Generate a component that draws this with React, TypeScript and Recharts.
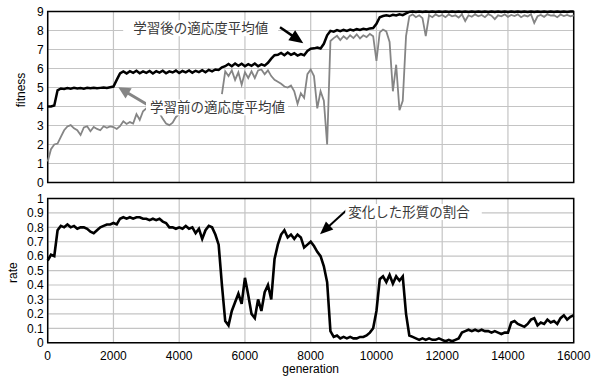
import React from "react"
import {
  LineChart,
  Line,
  XAxis,
  YAxis,
  CartesianGrid,
  ReferenceArea,
  ReferenceLine,
  ReferenceDot,
} from "recharts"

// one sample every 100 generations, 0 .. 16000
const GEN_STEP = 100

const fitnessAfter = [
  4.0, 4.0, 4.05, 4.85, 4.95, 4.92, 4.97, 4.94, 4.98, 4.95,
  4.97, 4.94, 4.98, 4.96, 4.99, 4.96, 4.98, 5.0, 4.97, 5.01,
  5.05, 5.4, 5.74, 5.84, 5.74, 5.86, 5.77, 5.88, 5.75, 5.85,
  5.77, 5.87, 5.74, 5.86, 5.78, 5.88, 5.75, 5.85, 5.79, 5.89,
  5.76, 5.87, 5.8, 5.9, 5.78, 5.88, 5.81, 5.91, 5.8, 5.93,
  5.85, 5.95, 5.92, 6.06, 6.12, 6.24, 6.12, 6.26, 6.14, 6.25,
  6.12, 6.23, 6.14, 6.26, 6.12, 6.22, 6.15, 6.3, 6.52, 6.7,
  6.72, 6.82, 6.7, 6.84, 6.72, 6.8, 6.68, 6.76, 6.7, 6.92,
  7.04, 7.06, 7.1, 7.05, 7.3, 7.75, 7.98, 7.94, 8.02, 7.96,
  8.03, 7.98, 8.05, 8.0, 8.07, 8.03, 8.09, 8.05, 8.11, 8.13,
  8.35, 8.7, 8.76, 8.8, 8.76, 8.83, 8.79, 8.85, 8.81, 8.9,
  8.98, 9.0, 8.97, 9.0, 8.98, 9.0, 8.97, 9.0, 8.98, 9.0,
  8.97, 9.0, 8.98, 9.0, 8.97, 9.0, 8.98, 9.0, 8.97, 9.0,
  8.98, 9.0, 8.97, 9.0, 8.98, 9.0, 8.97, 9.0, 8.98, 9.0,
  8.97, 9.0, 8.98, 9.0, 8.97, 9.0, 8.98, 9.0, 8.97, 9.0,
  8.98, 9.0, 8.97, 9.0, 8.98, 9.0, 8.97, 9.0, 8.98, 9.0,
  9.0,
]

const fitnessBefore: (number | null)[] = [
  1.1, 1.75, 2.0, 2.05, 2.4, 2.75, 2.95, 3.02, 2.85, 2.75,
  2.5, 2.9, 2.96, 2.7, 2.92, 2.82, 2.75, 2.96, 2.88, 2.95,
  2.92, 2.82, 2.96, 3.22, 3.08, 3.18, 3.1, 3.6, 3.3, 3.75,
  3.9, 3.8, 3.7, 3.75, 3.65, 3.35, 3.1, 3.02, 3.15, 3.45,
  3.6, null, null, null, null, null, null, null, null, null,
  null, null, null, 4.65, 5.85, 5.6, 5.9, 5.4, 5.8, 5.15,
  5.8, 5.5, 5.85, 5.5, 5.9, 5.95, 5.7, 5.9, 5.6, 5.4,
  5.3, 5.2, 5.05, 5.0, 5.1, 4.8, 4.15, 4.7, 4.45, 5.7,
  5.95, 5.6, 3.9, 4.8, 4.3, 2.0, 7.45, 7.6, 7.72, 7.5,
  7.7, 7.55, 7.75, 7.6, 7.8, 7.58, 7.75, 7.65, 7.82, 7.7,
  6.4, 7.9, 8.05, 7.95, 7.4, 4.8, 6.2, 3.8, 4.3, 7.7,
  8.75, 8.85, 8.7, 8.8, 8.65, 7.7, 8.8, 8.7, 8.85, 8.75,
  8.82, 8.7, 8.85, 8.75, 8.8, 8.68, 8.85, 8.5, 8.8, 8.72,
  8.85, 8.75, 8.82, 8.7, 8.86, 8.78, 8.6, 8.8, 8.75, 8.85,
  8.72, 8.82, 8.76, 8.85, 8.7, 8.8, 8.74, 8.86, 8.4, 8.75,
  8.82, 8.72, 8.85, 8.78, 8.8, 8.7, 8.84, 8.76, 8.82, 8.75,
  8.8,
]

const changedRate = [
  0.57, 0.61, 0.6, 0.78, 0.81, 0.8, 0.82, 0.8, 0.81, 0.79,
  0.8, 0.8, 0.79, 0.77, 0.76, 0.78, 0.8, 0.81, 0.82, 0.82,
  0.83, 0.82, 0.86, 0.87, 0.86, 0.87, 0.86, 0.87, 0.87, 0.86,
  0.86, 0.85, 0.86, 0.85, 0.86, 0.84, 0.83, 0.8, 0.8, 0.79,
  0.8, 0.79, 0.81, 0.79, 0.8, 0.76, 0.79, 0.72, 0.78, 0.81,
  0.8, 0.75, 0.68, 0.4, 0.15, 0.12, 0.22, 0.28, 0.34, 0.27,
  0.45, 0.33, 0.2, 0.17, 0.3, 0.22, 0.35, 0.4, 0.3, 0.58,
  0.68, 0.75, 0.78, 0.73, 0.75, 0.72, 0.75, 0.73, 0.66, 0.68,
  0.7, 0.67, 0.63, 0.6, 0.53, 0.42, 0.08, 0.04, 0.05, 0.03,
  0.04, 0.03, 0.04, 0.03, 0.03, 0.04, 0.04, 0.05, 0.07, 0.1,
  0.22, 0.44, 0.46, 0.42, 0.47, 0.41, 0.46, 0.43, 0.46, 0.2,
  0.05, 0.04, 0.03, 0.02, 0.03, 0.02, 0.03, 0.02, 0.02, 0.03,
  0.02, 0.01, 0.02, 0.01, 0.02, 0.03, 0.07, 0.08, 0.09, 0.08,
  0.09, 0.08, 0.09, 0.08, 0.08, 0.07, 0.08, 0.07, 0.06, 0.07,
  0.07, 0.14, 0.15, 0.13, 0.12, 0.11, 0.13, 0.16, 0.17, 0.12,
  0.14, 0.13, 0.16, 0.14, 0.15, 0.13, 0.17, 0.19, 0.16, 0.18,
  0.19,
]

const genTicks = [0, 2000, 4000, 6000, 8000, 10000, 12000, 14000, 16000]
const fitnessTicks = [0, 1, 2, 3, 4, 5, 6, 7, 8, 9]
const rateTicks = [0, 0.1, 0.2, 0.3, 0.4, 0.5, 0.6, 0.7, 0.8, 0.9, 1]

const fitnessData = fitnessAfter.map((v, i) => ({
  gen: i * GEN_STEP,
  after: v,
  before: fitnessBefore[i],
}))
const rateData = changedRate.map((v, i) => ({ gen: i * GEN_STEP, rate: v }))

const FONT = "'Liberation Sans', Arial, Helvetica, sans-serif"
const JP_FONT = "'Noto Sans CJK JP', sans-serif"
const GRID = "#c4c4c4"
const GRAY = "#858585"
const tickStyle = { fontSize: 12, fill: "#000", fontFamily: FONT }

const arrowShape =
  (color: string, width: number, headLen: number, headHalf: number) =>
  (p: any) => {
    const { x1, y1, x2, y2 } = p
    const dx = x2 - x1
    const dy = y2 - y1
    const len = Math.hypot(dx, dy) || 1
    const ux = dx / len
    const uy = dy / len
    const bx = x2 - ux * headLen
    const by = y2 - uy * headLen
    const nx = -uy * headHalf
    const ny = ux * headHalf
    return (
      <g>
        <line x1={x1} y1={y1} x2={bx + ux} y2={by + uy} stroke={color} strokeWidth={width} />
        <polygon
          points={`${x2},${y2} ${bx + nx},${by + ny} ${bx - nx},${by - ny}`}
          fill={color}
        />
      </g>
    )
  }

const noteShape =
  (text: string, padL: number, padR: number) =>
  (p: any) => {
    const { cx, cy } = p
    const w = text.length * 13.5
    return (
      <g>
        <rect x={cx - w / 2 - padL} y={cy - 8} width={w + padL + padR} height={16} fill="#fff" />
        <text
          x={cx}
          y={cy}
          dy="0.36em"
          textAnchor="middle"
          fontSize={13.5}
          fontFamily={JP_FONT}
          fill="#3a3a3a"
        >
          {text}
        </text>
      </g>
    )
  }

const axisTitle =
  (text: string, baseX: number, shiftY: number) =>
  (p: any) => {
    const vb = p.viewBox || { y: 0, height: 0 }
    const cy = vb.y + vb.height / 2 + shiftY
    return (
      <text
        x={baseX}
        y={cy}
        transform={`rotate(-90 ${baseX} ${cy})`}
        textAnchor="middle"
        fontSize={12}
        fontFamily={FONT}
        fill="#000"
      >
        {text}
      </text>
    )
  }

export default function App() {
  return (
    <div
      style={{
        position: "absolute",
        left: 0,
        top: 0,
        width: 594,
        height: 376,
        background: "#fff",
      }}
    >
      <div style={{ position: "absolute", left: 0, top: 0 }}>
        <LineChart
          width={594}
          height={192}
          data={fitnessData}
          margin={{ top: 11.5, right: 20.3, bottom: 9.5, left: 0 }}
        >
          <CartesianGrid stroke={GRID} strokeWidth={1.2} />
          <XAxis
            dataKey="gen"
            type="number"
            domain={[0, 16000]}
            ticks={genTicks}
            hide
          />
          <YAxis
            type="number"
            domain={[0, 9]}
            ticks={fitnessTicks}
            width={47.7}
            tickLine={false}
            axisLine={false}
            tickSize={2}
            tickMargin={2}
            tick={tickStyle}
            interval={0}
            label={{ content: axisTitle("fitness", 25, -7) }}
          />
          <Line
            dataKey="before"
            stroke={GRAY}
            strokeWidth={1.8}
            dot={false}
            isAnimationActive={false}
          />
          <Line
            dataKey="after"
            stroke="#000"
            strokeWidth={2.5}
            dot={false}
            isAnimationActive={false}
          />
          <ReferenceArea
            x1={0}
            x2={16000}
            y1={0}
            y2={9}
            fill="none"
            stroke="#000"
            strokeWidth={1.5}
            ifOverflow="visible"
          />
          <ReferenceDot
            x={4654}
            y={8.12}
            ifOverflow="visible"
            shape={noteShape("学習後の適応度平均値", 10, 10)}
          />
          <ReferenceLine
            segment={[
              { x: 7067, y: 8.17 },
              { x: 7775, y: 7.33 },
            ]}
            ifOverflow="visible"
            shape={arrowShape("#000", 2.5, 14, 6)}
          />
          <ReferenceDot
            x={5165}
            y={3.95}
            ifOverflow="visible"
            shape={noteShape("学習前の適応度平均値", 4, 3)}
          />
          <ReferenceLine
            segment={[
              { x: 3051, y: 4.08 },
              { x: 2148, y: 5.01 },
            ]}
            ifOverflow="visible"
            shape={arrowShape(GRAY, 3, 12, 6)}
          />
        </LineChart>
      </div>
      <div style={{ position: "absolute", left: 0, top: 186 }}>
        <LineChart
          width={594}
          height={190}
          data={rateData}
          margin={{ top: 12.5, right: 20.3, bottom: 0, left: 0 }}
        >
          <CartesianGrid stroke={GRID} strokeWidth={1.2} />
          <XAxis
            dataKey="gen"
            type="number"
            domain={[0, 16000]}
            ticks={genTicks}
            interval={0}
            height={33.3}
            tickLine={false}
            axisLine={false}
            tickSize={7}
            tickMargin={2}
            tick={tickStyle}
            label={{
              value: "generation",
              position: "insideBottom",
              offset: 3,
              style: { fontSize: 12, fill: "#000", fontFamily: FONT },
            }}
          />
          <YAxis
            type="number"
            domain={[0, 1]}
            ticks={rateTicks}
            width={47.7}
            tickLine={false}
            axisLine={false}
            tickSize={2}
            tickMargin={2}
            tick={tickStyle}
            interval={0}
            label={{ content: axisTitle("rate", 17, 2) }}
          />
          <Line
            dataKey="rate"
            stroke="#000"
            strokeWidth={2.6}
            dot={false}
            isAnimationActive={false}
          />
          <ReferenceArea
            x1={0}
            x2={16000}
            y1={0}
            y2={1}
            fill="none"
            stroke="#000"
            strokeWidth={1.5}
            ifOverflow="visible"
          />
          <ReferenceDot
            x={10991}
            y={0.906}
            ifOverflow="visible"
            shape={noteShape("変化した形質の割合", 3, 12)}
          />
          <ReferenceLine
            segment={[
              { x: 9096, y: 0.92 },
              { x: 8283, y: 0.752 },
            ]}
            ifOverflow="visible"
            shape={arrowShape("#000", 2, 13, 5.5)}
          />
        </LineChart>
      </div>
    </div>
  )
}
